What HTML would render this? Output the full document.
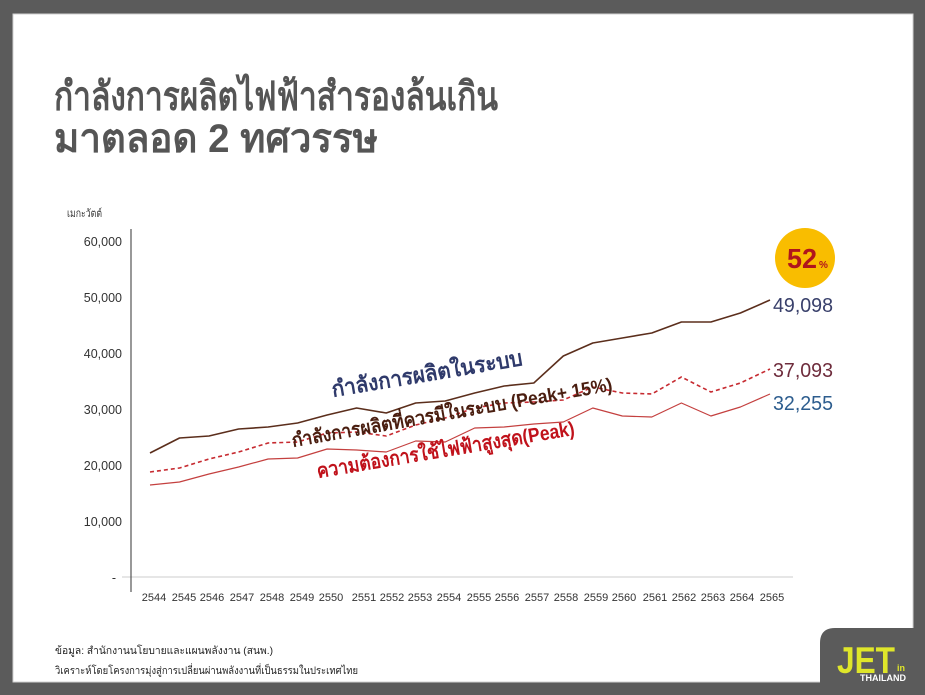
<!DOCTYPE html>
<html>
<head>
<meta charset="utf-8">
<style>
html,body{margin:0;padding:0;background:#5b5b5b;}
svg{display:block;}
text{font-family:"Liberation Sans","Noto Sans CJK SC",sans-serif;}
</style>
</head>
<body>
<svg width="925" height="695" viewBox="0 0 925 695" xmlns="http://www.w3.org/2000/svg">
  <!-- frame -->
  <rect x="0" y="0" width="925" height="695" fill="#5b5b5b"/>
  <rect x="13" y="14" width="900" height="668" fill="#ffffff" stroke="#d0d0d0" stroke-width="1"/>
  <!-- logo tab -->
  <path d="M820,695 L820,643 Q820,628 835,628 L925,628 L925,695 Z" fill="#5b5b5b"/>

  <!-- title -->
  <text x="54" y="110" font-size="40" font-weight="bold" fill="#555555" textLength="444" lengthAdjust="spacingAndGlyphs">กำลังการผลิตไฟฟ้าสำรองล้นเกิน</text>
  <text x="54" y="152" font-size="40" font-weight="bold" fill="#555555" textLength="324" lengthAdjust="spacingAndGlyphs">มาตลอด 2 ทศวรรษ</text>

  <!-- y axis title -->
  <text x="67" y="217" font-size="11" fill="#333" textLength="35" lengthAdjust="spacingAndGlyphs">เมกะวัตต์</text>

  <!-- y tick labels -->
  <g font-size="12.5" fill="#333" text-anchor="end">
    <text x="122" y="246">60,000</text>
    <text x="122" y="302">50,000</text>
    <text x="122" y="358">40,000</text>
    <text x="122" y="414">30,000</text>
    <text x="122" y="470">20,000</text>
    <text x="122" y="526">10,000</text>
    <text x="116" y="582">-</text>
  </g>

  <!-- baseline + y axis -->
  <line x1="122" y1="577" x2="793" y2="577" stroke="#dddddd" stroke-width="1.5"/>
  <line x1="131" y1="229" x2="131" y2="592" stroke="#555" stroke-width="1.2"/>

  <!-- x tick labels -->
  <g font-size="11" fill="#333" text-anchor="middle">
    <text x="154" y="601">2544</text>
    <text x="184" y="601">2545</text>
    <text x="212" y="601">2546</text>
    <text x="242" y="601">2547</text>
    <text x="272" y="601">2548</text>
    <text x="302" y="601">2549</text>
    <text x="331" y="601">2550</text>
    <text x="364" y="601">2551</text>
    <text x="392" y="601">2552</text>
    <text x="420" y="601">2553</text>
    <text x="449" y="601">2554</text>
    <text x="479" y="601">2555</text>
    <text x="507" y="601">2556</text>
    <text x="537" y="601">2557</text>
    <text x="566" y="601">2558</text>
    <text x="596" y="601">2559</text>
    <text x="624" y="601">2560</text>
    <text x="655" y="601">2561</text>
    <text x="684" y="601">2562</text>
    <text x="713" y="601">2563</text>
    <text x="742" y="601">2564</text>
    <text x="772" y="601">2565</text>
  </g>

  <!-- series -->
  <polyline fill="none" stroke="#5b2e1c" stroke-width="1.6" stroke-linejoin="round"
    points="150,453 179.5,438 209,436 238.6,429 268.1,427 297.6,423 327.1,415 356.6,408 386.2,413 415.7,403 445.2,401 474.7,393 504.2,386 533.8,383 563.3,356 592.8,343 622.3,338 651.8,333 681.4,322 710.9,322 740.4,313 770,300"/>
  <polyline fill="none" stroke="#c62a30" stroke-width="1.6" stroke-dasharray="4,3" stroke-linejoin="round"
    points="150,472 179.5,468 209,459 238.6,452 268.1,443 297.6,442 327.1,433 356.6,432 386.2,436 415.7,425 445.2,418 474.7,408 504.2,403 533.8,402 563.3,400 592.8,387 622.3,393 651.8,394 681.4,377 710.9,392 740.4,383 770,369"/>
  <polyline fill="none" stroke="#c4403f" stroke-width="1.2" stroke-linejoin="round"
    points="150,485 179.5,482 209,474 238.6,467 268.1,459 297.6,458 327.1,449 356.6,450 386.2,452 415.7,441 445.2,442 474.7,428 504.2,427 533.8,424 563.3,422 592.8,408 622.3,416 651.8,417 681.4,403 710.9,416 740.4,407 770,394"/>

  <!-- series labels -->
  <text x="333" y="397" font-size="22" font-weight="bold" fill="#2f3a6b" transform="rotate(-9.5 333 397)" textLength="193" lengthAdjust="spacingAndGlyphs">กำลังการผลิตในระบบ</text>
  <text x="293" y="447" font-size="19" font-weight="bold" fill="#4a1e10" transform="rotate(-10 293 447)" textLength="325" lengthAdjust="spacingAndGlyphs">กำลังการผลิตที่ควรมีในระบบ (Peak+ 15%)</text>
  <text x="318" y="478" font-size="20" font-weight="bold" fill="#c0121b" transform="rotate(-9.5 318 478)" textLength="261" lengthAdjust="spacingAndGlyphs">ความต้องการใช้ไฟฟ้าสูงสุด(Peak)</text>

  <!-- end value labels -->
  <text x="773" y="312" font-size="20" fill="#39406b" textLength="60" lengthAdjust="spacingAndGlyphs">49,098</text>
  <text x="773" y="377" font-size="20" fill="#6e2c3c" textLength="60" lengthAdjust="spacingAndGlyphs">37,093</text>
  <text x="773" y="410" font-size="20" fill="#2d5d8e" textLength="60" lengthAdjust="spacingAndGlyphs">32,255</text>

  <!-- 52% badge -->
  <circle cx="805" cy="258" r="30" fill="#f9bd00"/>
  <text x="787" y="268" font-size="28" font-weight="bold" fill="#b0141c" textLength="30" lengthAdjust="spacingAndGlyphs">52</text>
  <text x="819" y="268" font-size="10" font-weight="bold" fill="#b0141c">%</text>

  <!-- footer -->
  <text x="55" y="654" font-size="10.5" fill="#222" textLength="218" lengthAdjust="spacingAndGlyphs">ข้อมูล: สำนักงานนโยบายและแผนพลังงาน (สนพ.)</text>
  <text x="55" y="674" font-size="10.5" fill="#222" textLength="303" lengthAdjust="spacingAndGlyphs">วิเคราะห์โดยโครงการมุ่งสู่การเปลี่ยนผ่านพลังงานที่เป็นธรรมในประเทศไทย</text>

  <!-- logo -->
  <text x="837" y="673" font-size="37" font-weight="bold" fill="#dfe62a" textLength="58" lengthAdjust="spacingAndGlyphs">JET</text>
  <text x="897" y="671" font-size="9" font-weight="bold" fill="#dfe62a">in</text>
  <text x="860" y="681" font-size="9" font-weight="bold" fill="#ffffff" textLength="46" lengthAdjust="spacingAndGlyphs">THAILAND</text>
</svg>
</body>
</html>
